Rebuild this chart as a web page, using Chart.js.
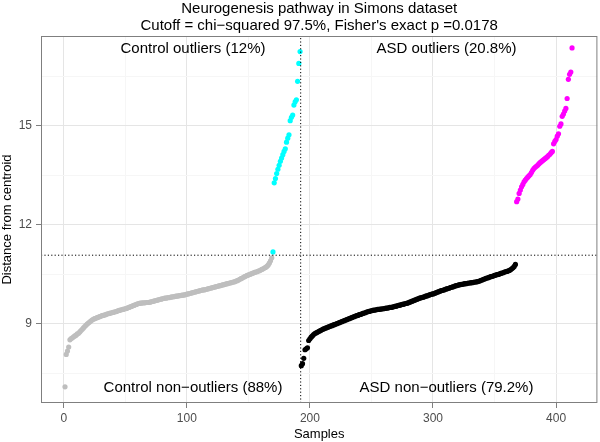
<!DOCTYPE html>
<html>
<head>
<meta charset="utf-8">
<script src="https://cdn.jsdelivr.net/npm/chart.js@4.4.1/dist/chart.umd.min.js"></script>
<style>
    html, body { margin: 0; padding: 0; background: #fff; }
    #wrap { width: 600px; height: 442px; }
</style>
</head>
<body>
<div id="wrap"><canvas id="myChart" width="600" height="442"></canvas></div>
<script>
var titleLines = ['Neurogenesis pathway in Simons dataset', 'Cutoff = chi\u2212squared 97.5%, Fisher\'s exact p =0.0178'];

// distances, sorted within each group; first sample index of each group below
var controlNormal = [
    7.10, 8.08, 8.18, 8.30, 8.52, 8.56, 8.58, 8.61, 8.64, 8.66,
    8.70, 8.72, 8.76, 8.80, 8.84, 8.88, 8.92, 8.96, 9.00, 9.03,
    9.06, 9.09, 9.12, 9.14, 9.16, 9.17, 9.19, 9.20, 9.22, 9.23,
    9.25, 9.26, 9.27, 9.28, 9.30, 9.31, 9.32, 9.33, 9.34, 9.35,
    9.36, 9.37, 9.38, 9.40, 9.41, 9.42, 9.43, 9.44, 9.45, 9.46,
    9.47, 9.49, 9.50, 9.52, 9.53, 9.55, 9.56, 9.58, 9.59, 9.61,
    9.62, 9.63, 9.63, 9.64, 9.64, 9.64, 9.65, 9.65, 9.65, 9.66,
    9.67, 9.68, 9.69, 9.70, 9.71, 9.72, 9.73, 9.74, 9.75, 9.76,
    9.77, 9.78, 9.78, 9.79, 9.80, 9.80, 9.81, 9.82, 9.82, 9.83,
    9.84, 9.84, 9.85, 9.86, 9.86, 9.87, 9.87, 9.88, 9.89, 9.90,
    9.91, 9.92, 9.93, 9.94, 9.95, 9.96, 9.97, 9.98, 9.99, 10.00,
    10.01, 10.02, 10.03, 10.03, 10.04, 10.05, 10.06, 10.07, 10.08, 10.09,
    10.10, 10.11, 10.12, 10.13, 10.14, 10.15, 10.16, 10.17, 10.18, 10.19,
    10.20, 10.21, 10.22, 10.23, 10.24, 10.25, 10.26, 10.27, 10.28, 10.30,
    10.31, 10.33, 10.35, 10.37, 10.39, 10.41, 10.43, 10.45, 10.47, 10.48,
    10.50, 10.51, 10.53, 10.54, 10.56, 10.57, 10.58, 10.60, 10.61, 10.63,
    10.65, 10.67, 10.69, 10.71, 10.74, 10.78, 10.84, 10.91, 11.00
];
var controlOutlier = [
    11.18, 13.27, 13.40, 13.55, 13.68, 13.80, 13.92, 14.02, 14.12, 14.22,
    14.30, 14.50, 14.62, 14.72, 15.15, 15.25, 15.32, 15.62, 15.72, 15.78,
    16.34, 16.88, 17.24
];
var asdNormal = [
    7.74, 7.80, 7.96, 8.22, 8.25, 8.28, 8.50, 8.55, 8.60, 8.64,
    8.68, 8.71, 8.73, 8.75, 8.77, 8.79, 8.81, 8.83, 8.85, 8.86,
    8.88, 8.89, 8.91, 8.92, 8.94, 8.95, 8.97, 8.98, 9.00, 9.01,
    9.03, 9.04, 9.06, 9.07, 9.09, 9.10, 9.12, 9.13, 9.15, 9.16,
    9.18, 9.19, 9.21, 9.22, 9.24, 9.25, 9.26, 9.28, 9.29, 9.30,
    9.32, 9.33, 9.34, 9.36, 9.37, 9.38, 9.39, 9.40, 9.41, 9.42,
    9.42, 9.43, 9.44, 9.44, 9.45, 9.45, 9.46, 9.46, 9.47, 9.48,
    9.48, 9.49, 9.50, 9.50, 9.51, 9.52, 9.53, 9.54, 9.55, 9.56,
    9.57, 9.58, 9.59, 9.60, 9.61, 9.62, 9.63, 9.64, 9.66, 9.67,
    9.69, 9.70, 9.72, 9.73, 9.75, 9.76, 9.78, 9.79, 9.80, 9.81,
    9.82, 9.84, 9.85, 9.86, 9.88, 9.89, 9.90, 9.91, 9.92, 9.94,
    9.95, 9.97, 9.98, 10.00, 10.01, 10.02, 10.03, 10.05, 10.06, 10.07,
    10.08, 10.10, 10.11, 10.12, 10.13, 10.15, 10.16, 10.17, 10.18, 10.19,
    10.20, 10.20, 10.21, 10.22, 10.22, 10.23, 10.24, 10.24, 10.25, 10.25,
    10.26, 10.27, 10.27, 10.28, 10.29, 10.30, 10.32, 10.33, 10.35, 10.36,
    10.38, 10.39, 10.40, 10.42, 10.43, 10.44, 10.45, 10.47, 10.48, 10.49,
    10.50, 10.51, 10.53, 10.54, 10.55, 10.57, 10.58, 10.59, 10.60, 10.62,
    10.64, 10.67, 10.70, 10.74, 10.80
];
var asdOutlier = [
    12.70, 12.78, 12.95, 13.05, 13.15, 13.22, 13.30, 13.35, 13.40, 13.44,
    13.48, 13.52, 13.58, 13.65, 13.70, 13.74, 13.77, 13.80, 13.84, 13.88,
    13.91, 13.94, 13.97, 14.00, 14.03, 14.06, 14.10, 14.13, 14.18, 14.22,
    14.45, 14.52, 14.58, 14.68, 14.75, 14.98, 15.05, 15.28, 15.35, 15.44,
    15.52, 15.82, 16.40, 16.55, 16.62, 17.35
];
var groupStarts = [1, 170, 193, 368];

var cutoffY = 11.08;   // horizontal dotted line
var splitX = 192.5;    // control / ASD boundary

var xTicks = [0, 100, 200, 300, 400];
var xMinor = [50, 150, 250, 350];
var yTicks = [9, 12, 15];
var yMinor = [7.5, 10.5, 13.5, 16.5];
var xRange = [-18.5, 433.6];
var yRange = [6.61, 17.71];

var groupLabels = ['Control outliers (12%)', 'ASD outliers (20.8%)', 'Control non\u2212outliers (88%)', 'ASD non\u2212outliers (79.2%)'];
var groupLabelX = [105, 311, 105, 311];
var groupLabelY = [17.32, 17.32, 7.08, 7.08];

document.addEventListener('DOMContentLoaded', function () {
    var FONT = '"Liberation Sans", Arial, Helvetica, sans-serif';
    Chart.defaults.font.family = FONT;

    function toPoints(values, start) {
        return values.map(function (v, i) { return { x: start + i, y: v }; });
    }

    function pointSet(values, start, color) {
        return {
            type: 'scatter',
            data: toPoints(values, start),
            backgroundColor: color,
            borderWidth: 0,
            pointRadius: 2.6,
            pointHoverRadius: 2.6
        };
    }

    function dottedLine(points) {
        return {
            type: 'line',
            data: points,
            borderColor: '#000',
            borderWidth: 1,
            borderDash: [1.2, 2.2],
            pointRadius: 0,
            fill: false
        };
    }

    var panelPlugin = {
        id: 'panel',
        afterDatasetsDraw: function (chart) {
            var ctx = chart.ctx;
            var area = chart.chartArea;
            var xs = chart.scales.x;
            var ys = chart.scales.y;
            ctx.save();
            ctx.font = '15px ' + FONT;
            ctx.fillStyle = '#000';
            ctx.textAlign = 'center';
            ctx.textBaseline = 'middle';
            groupLabels.forEach(function (txt, i) {
                ctx.fillText(txt, xs.getPixelForValue(groupLabelX[i]), ys.getPixelForValue(groupLabelY[i]));
            });
            ctx.strokeStyle = '#7f7f7f';
            ctx.lineWidth = 1;
            ctx.strokeRect(area.left + 0.5, area.top + 0.5, area.right - area.left - 1, area.bottom - area.top - 1);
            ctx.restore();
        }
    };

    function gridColor(major) {
        return function (c) {
            return major.indexOf(c.tick.value) >= 0 ? '#e5e5e5' : '#f6f6f6';
        };
    }
    function tickColor(major) {
        return function (c) {
            return major.indexOf(c.tick.value) >= 0 ? '#7f7f7f' : 'rgba(0,0,0,0)';
        };
    }

    new Chart(document.getElementById('myChart').getContext('2d'), {
        type: 'scatter',
        data: {
            datasets: [
                dottedLine([{ x: xRange[0], y: cutoffY }, { x: xRange[1], y: cutoffY }]),
                dottedLine([{ x: splitX, y: yRange[0] }, { x: splitX, y: yRange[1] }]),
                pointSet(controlNormal, groupStarts[0], '#bebebe'),
                pointSet(controlOutlier, groupStarts[1], '#00ffff'),
                pointSet(asdNormal, groupStarts[2], '#000000'),
                pointSet(asdOutlier, groupStarts[3], '#ff00ff')
            ]
        },
        options: {
            responsive: false,
            animation: false,
            layout: { padding: { right: 1 } },
            scales: {
                x: {
                    type: 'linear',
                    min: xRange[0],
                    max: xRange[1],
                    afterBuildTicks: function (s) {
                        s.ticks = xTicks.concat(xMinor).sort(function (a, b) { return a - b; })
                            .map(function (v) { return { value: v }; });
                    },
                    afterFit: function (s) { s.height = 39; },
                    border: { display: false },
                    grid: { color: gridColor(xTicks), tickColor: tickColor(xTicks), tickLength: 5 },
                    ticks: {
                        autoSkip: false, maxRotation: 0, padding: 3,
                        color: '#4d4d4d', font: { size: 12 },
                        callback: function (v) { return xTicks.indexOf(v) >= 0 ? String(v) : ''; }
                    },
                    title: { display: true, text: 'Samples', color: '#000', font: { size: 13 }, padding: { top: 0, bottom: 0 } }
                },
                y: {
                    type: 'linear',
                    min: yRange[0],
                    max: yRange[1],
                    afterBuildTicks: function (s) {
                        s.ticks = yMinor.concat(yTicks).sort(function (a, b) { return a - b; })
                            .map(function (v) { return { value: v }; });
                    },
                    afterFit: function (s) { s.width = 41; },
                    border: { display: false },
                    grid: { color: gridColor(yTicks), tickColor: tickColor(yTicks), tickLength: 5 },
                    ticks: {
                        autoSkip: false, padding: 4,
                        color: '#4d4d4d', font: { size: 12 },
                        callback: function (v) { return yTicks.indexOf(v) >= 0 ? String(v) : ''; }
                    },
                    title: { display: true, text: 'Distance from centroid', color: '#000', font: { size: 13 }, padding: { top: 0, bottom: 0 } }
                }
            },
            plugins: {
                legend: { display: false },
                tooltip: { enabled: false },
                title: {
                    display: true,
                    text: titleLines,
                    fullSize: false,
                    color: '#000',
                    font: { size: 15, weight: 'normal', lineHeight: 1.15 },
                    padding: { top: 0, bottom: 1.5 }
                }
            }
        },
        plugins: [panelPlugin]
    });
});
</script>
</body>
</html>
